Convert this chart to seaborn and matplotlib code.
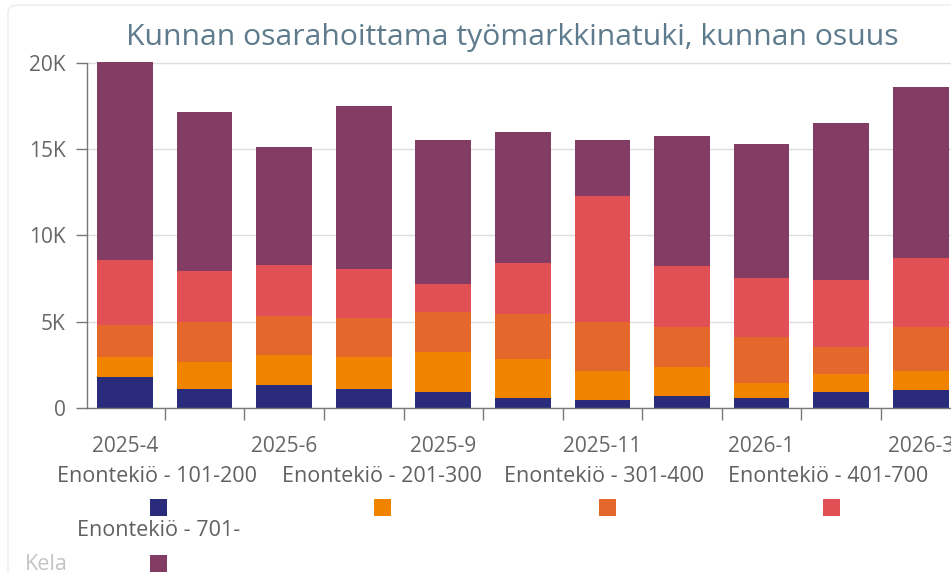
import numpy as np
import pandas as pd
import matplotlib
matplotlib.use("Agg")
import matplotlib.pyplot as plt
import seaborn as sns
from matplotlib.patches import Rectangle, FancyBboxPatch
from matplotlib.ticker import FuncFormatter

# ---- data ----
months = ["2025-4", "2025-5", "2025-6", "2025-8", "2025-9", "2025-10",
          "2025-11", "2025-12", "2026-1", "2026-2", "2026-3"]
shown_labels = ["2025-4", "2025-6", "2025-9", "2025-11", "2026-1", "2026-3"]
series_names = ["Enontekiö - 101-200", "Enontekiö - 201-300", "Enontekiö - 301-400",
                "Enontekiö - 401-700", "Enontekiö - 701-"]
s_101_200 = [1770, 1110, 1340, 1110, 900, 580, 480, 670, 580, 900, 1020]
s_201_300 = [1210, 1540, 1730, 1830, 2370, 2260, 1640, 1730, 860, 1080, 1150]
s_301_400 = [1820, 2350, 2270, 2300, 2300, 2600, 2880, 2310, 2690, 1540, 2540]
s_401_700 = [3800, 2970, 2960, 2830, 1620, 2960, 7290, 3550, 3400, 3880, 3980]
s_701 = [11460, 9190, 6820, 9410, 8350, 7580, 3250, 7490, 7800, 9120, 9890]
colors = ["#2a2c7b", "#f08300", "#e4672b", "#e05055", "#833d65"]
y_ticks = [0, 5000, 10000, 15000, 20000]

sns.set_theme(style="white")
plt.rcParams['font.family'] = ['Open Sans', 'DejaVu Sans']

W, H = 951, 573
fig = plt.figure(figsize=(W / 100, H / 100), dpi=100)
fig.patch.set_facecolor("white")

# card border
card = FancyBboxPatch((8 / W, -0.05), 1.1, 1.05 - 5 / H,
                      boxstyle="round,pad=0,rounding_size=0.012",
                      transform=fig.transFigure, facecolor="none",
                      edgecolor="#ececec", lw=1.0, zorder=0)
fig.patches.append(card)

y0 = 408
ytop_val = 20500
ppu = 345 / 20000
ytop_px = y0 - ytop_val * ppu
ax = fig.add_axes([86.5 / W, (H - y0) / H, (W - 86.5) / W, (y0 - ytop_px) / H])
ax.set_facecolor("none")

df = pd.DataFrame({"month": months,
                   series_names[0]: s_101_200, series_names[1]: s_201_300,
                   series_names[2]: s_301_400, series_names[3]: s_401_700,
                   series_names[4]: s_701})
cum = df[series_names].cumsum(axis=1)
for name, col in reversed(list(zip(series_names, colors))):
    pdf = pd.DataFrame({"month": months, "value": cum[name].values})
    sns.barplot(data=pdf, x="month", y="value", order=months, color=col,
                saturation=1, width=0.7, linewidth=0, ax=ax, zorder=3)

ax.set_xlim(-0.484, 10.38)
ax.set_ylim(0, ytop_val)
ax.set_xlabel("")
ax.set_ylabel("")

for s in ["top", "right"]:
    ax.spines[s].set_visible(False)
ax.spines["left"].set_bounds(0, 20000)
for s in ["left", "bottom"]:
    ax.spines[s].set_color("#777777")
    ax.spines[s].set_linewidth(1)
    ax.spines[s].set_zorder(4)

ax.set_yticks(y_ticks)
ax.yaxis.set_major_formatter(FuncFormatter(lambda v, p: "0" if v == 0 else f"{v/1000:.0f}K"))
ax.yaxis.grid(True, color="#dddddd", lw=1)
ax.set_axisbelow(True)
ax.tick_params(axis="y", left=True, length=8, width=1, color="#777777", pad=7,
               labelsize=15, labelcolor="#666666")

ax.set_xticks(range(len(months)))
ax.set_xticklabels([m if m in shown_labels else "" for m in months])
ax.set_xticks(np.arange(0.5, len(months) - 1, 1), minor=True)
ax.tick_params(axis="x", which="major", bottom=True, length=0, pad=20,
               labelsize=15, labelcolor="#666666")
ax.tick_params(axis="x", which="minor", bottom=True, length=8.5, width=1,
               color="#777777")

# title
fig.text(512 / W, 1 - 38 / H, "Kunnan osarahoittama työmarkkinatuki, kunnan osuus",
         ha="center", va="center", fontsize=21.7, color="#5d7b8c")

# legend: text above square
leg_text_pos = [(157, 477), (382, 477), (604, 477), (828, 477), (159, 530)]
leg_sq_pos = [(158, 507), (382, 507), (607, 507), (831, 507), (158, 563)]
sq = 17
for name, col, (tx, ty), (sx, sy) in zip(series_names, colors, leg_text_pos, leg_sq_pos):
    fig.text(tx / W, 1 - ty / H, name, ha="center", va="center",
             fontsize=15.5, color="#606060")
    fig.patches.append(Rectangle(((sx - sq / 2) / W, 1 - (sy + sq / 2) / H),
                                 sq / W, sq / H, transform=fig.transFigure,
                                 facecolor=col, edgecolor="none"))

fig.text(25 / W, 1 - 564 / H, "Kela", ha="left", va="center",
         fontsize=15.5, color="#c4c4c4")

fig.savefig("out.png", dpi=100)
